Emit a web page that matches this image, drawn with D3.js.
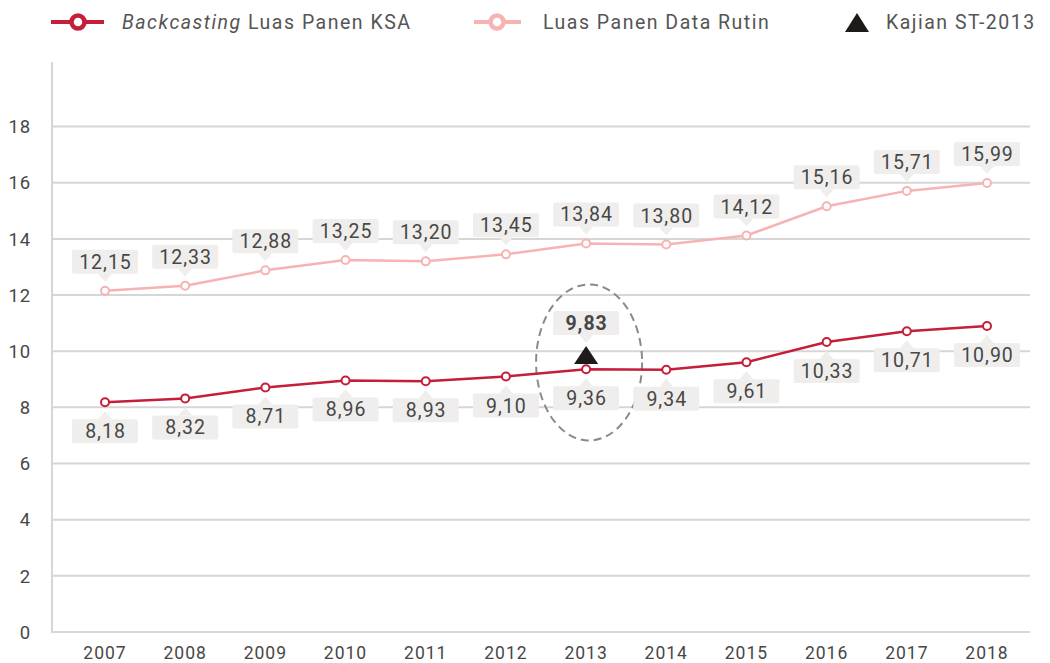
<!DOCTYPE html>
<html>
<head>
<meta charset="utf-8">
<script src="https://cdn.jsdelivr.net/npm/d3@7"></script>
<style>
  html, body { margin: 0; padding: 0; background: #fff; }
  svg { display: block; font-family: Roboto, "Open Sans", sans-serif; }
</style>
</head>
<body>
<svg id="chart" width="1050" height="663"></svg>
<script>
const years = ["2007","2008","2009","2010","2011","2012","2013","2014","2015","2016","2017","2018"];
const ksaValues = [8.18, 8.32, 8.71, 8.96, 8.93, 9.10, 9.36, 9.34, 9.61, 10.33, 10.71, 10.90];
const rutinValues = [12.15, 12.33, 12.88, 13.25, 13.20, 13.45, 13.84, 13.80, 14.12, 15.16, 15.71, 15.99];
const kajianYear = "2013";
const kajianValue = 9.83;
const yTicks = [0, 2, 4, 6, 8, 10, 12, 14, 16, 18];
const seriesNames = ["Backcasting", " Luas Panen KSA", "Luas Panen Data Rutin", "Kajian ST-2013"];

const RED = "#c41e3a", PINK = "#f7b3b3", GRID = "#d6d6d6", TXT = "#474747", BOX = "#efeeec";
const fmt = v => d3.format(".2f")(v).replace(".", ",");

const svg = d3.select("#chart");
const plotLeft = 52, plotRight = 1030, plotBottom = 632, plotTop = 62;

const x = d3.scalePoint().domain(years).range([105, 987]);
const y = d3.scaleLinear().domain([0, 20.3]).range([plotBottom, plotTop]);

// gridlines
svg.append("g").selectAll("line").data(yTicks.filter(d => d > 0)).join("line")
  .attr("x1", plotLeft).attr("x2", plotRight)
  .attr("y1", d => y(d)).attr("y2", d => y(d))
  .attr("stroke", GRID).attr("stroke-width", 2);

// axes lines
svg.append("line").attr("x1", plotLeft).attr("x2", plotLeft).attr("y1", plotTop).attr("y2", plotBottom + 1)
  .attr("stroke", GRID).attr("stroke-width", 2);
svg.append("line").attr("x1", plotLeft - 1).attr("x2", plotRight).attr("y1", plotBottom).attr("y2", plotBottom)
  .attr("stroke", GRID).attr("stroke-width", 2);

// y tick labels
svg.append("g").selectAll("text").data(yTicks).join("text")
  .attr("x", 31).attr("y", d => y(d)).attr("dy", "0.36em")
  .attr("text-anchor", "end").attr("font-size", 18.5).attr("letter-spacing", 0.8).attr("fill", TXT)
  .text(d => d);

// x tick labels
svg.append("g").selectAll("text").data(years).join("text")
  .attr("x", d => x(d)).attr("y", 659)
  .attr("text-anchor", "middle").attr("font-size", 17.5).attr("letter-spacing", 1).attr("fill", TXT)
  .text(d => d);

// dashed ellipse around 2013
svg.append("ellipse")
  .attr("cx", x(kajianYear) + 3).attr("cy", y(9.6))
  .attr("rx", 53).attr("ry", 78)
  .attr("fill", "none").attr("stroke", "#8a8a8a").attr("stroke-width", 2)
  .attr("stroke-dasharray", "8,5");

// callout label helper
function callout(g, cx, cy, text, above, bold) {
  const w = 66, h = 24, gap = 17, tri = 8;
  const grp = g.append("g");
  const by = above ? cy - gap - h : cy + gap;
  grp.append("rect").attr("x", cx - w / 2).attr("y", by).attr("width", w).attr("height", h)
    .attr("rx", 2).attr("fill", BOX);
  const triPath = above
    ? `M${cx - 7},${by + h} L${cx},${by + h + tri} L${cx + 7},${by + h} Z`
    : `M${cx - 7},${by} L${cx},${by - tri} L${cx + 7},${by} Z`;
  grp.append("path").attr("d", triPath).attr("fill", BOX);
  grp.append("text").attr("x", cx + 0.5).attr("y", by + h / 2).attr("dy", "0.36em")
    .attr("text-anchor", "middle").attr("font-size", 19.5).attr("letter-spacing", 1)
    .attr("fill", TXT).attr("font-weight", bold ? "bold" : null).text(text);
}

const labels = svg.append("g");
years.forEach((yr, i) => {
  callout(labels, x(yr), y(rutinValues[i]), fmt(rutinValues[i]), true, false);
  callout(labels, x(yr), y(ksaValues[i]), fmt(ksaValues[i]), false, false);
});

// lines
const line = d3.line().x((d, i) => x(years[i])).y(d => y(d));
svg.append("path").datum(rutinValues).attr("d", line)
  .attr("fill", "none").attr("stroke", PINK).attr("stroke-width", 2.5);
svg.append("path").datum(ksaValues).attr("d", line)
  .attr("fill", "none").attr("stroke", RED).attr("stroke-width", 2.5);

// markers
svg.append("g").selectAll("circle").data(rutinValues).join("circle")
  .attr("cx", (d, i) => x(years[i])).attr("cy", d => y(d)).attr("r", 4)
  .attr("fill", "#fff").attr("stroke", PINK).attr("stroke-width", 2);
svg.append("g").selectAll("circle").data(ksaValues).join("circle")
  .attr("cx", (d, i) => x(years[i])).attr("cy", d => y(d)).attr("r", 4)
  .attr("fill", "#fff").attr("stroke", RED).attr("stroke-width", 2);

// Kajian triangle + label
const kx = x(kajianYear), ky = y(kajianValue);
svg.append("path")
  .attr("d", `M${kx},${ky - 10} L${kx + 12},${ky + 8} L${kx - 12},${ky + 8} Z`)
  .attr("fill", "#1f1a1a");
callout(labels, kx, ky - 4, fmt(kajianValue), true, true);

// legend
const lg = svg.append("g");
lg.append("line").attr("x1", 51).attr("x2", 104).attr("y1", 22).attr("y2", 22)
  .attr("stroke", RED).attr("stroke-width", 4);
lg.append("circle").attr("cx", 78).attr("cy", 22).attr("r", 6.5)
  .attr("fill", "#fff").attr("stroke", RED).attr("stroke-width", 4.5);
const t1 = lg.append("text").attr("x", 122).attr("y", 22).attr("dy", "0.36em")
  .attr("font-size", 19.5).attr("letter-spacing", 1.5).attr("fill", "#555");
t1.append("tspan").attr("font-style", "italic").text(seriesNames[0]);
t1.append("tspan").text(seriesNames[1]);

lg.append("line").attr("x1", 474).attr("x2", 521).attr("y1", 22).attr("y2", 22)
  .attr("stroke", PINK).attr("stroke-width", 4);
lg.append("circle").attr("cx", 497).attr("cy", 22).attr("r", 6.5)
  .attr("fill", "#fff").attr("stroke", PINK).attr("stroke-width", 4.5);
lg.append("text").attr("x", 543).attr("y", 22).attr("dy", "0.36em")
  .attr("font-size", 19.5).attr("letter-spacing", 1.5).attr("fill", "#555").text(seriesNames[2]);

lg.append("path").attr("d", "M857,13 L869,32 L845,32 Z").attr("fill", "#1f1a1a");
lg.append("text").attr("x", 886).attr("y", 22).attr("dy", "0.36em")
  .attr("font-size", 19.5).attr("letter-spacing", 1.5).attr("fill", "#555").text(seriesNames[3]);
</script>
</body>
</html>
